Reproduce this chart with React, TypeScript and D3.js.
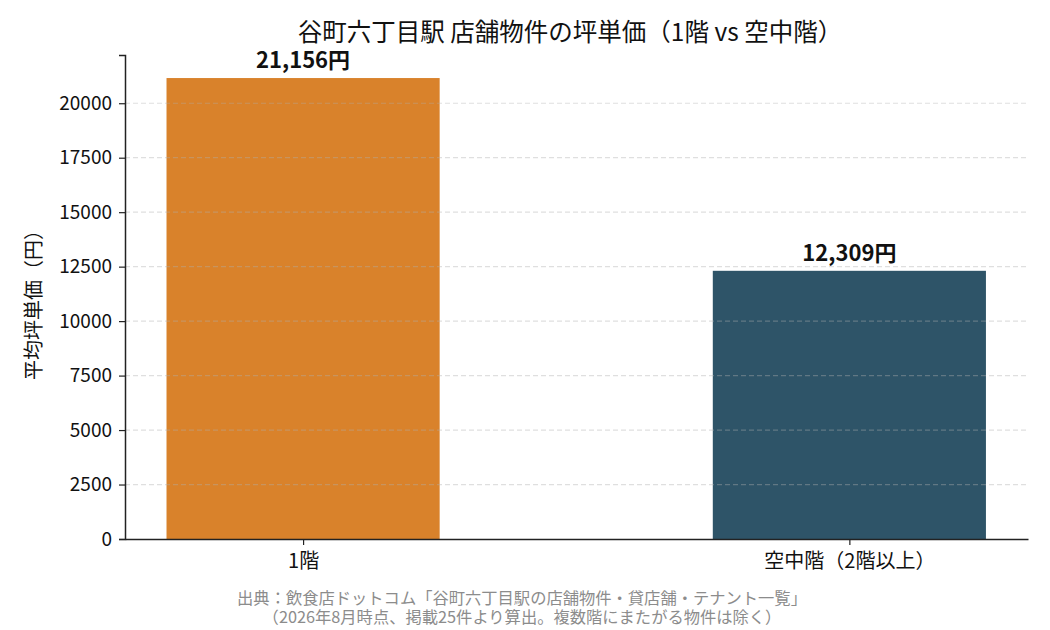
import { useEffect, useRef } from 'react';
import * as d3 from 'd3';

const categories = ['1階', '空中階（2階以上）'];
const values = [21156, 12309];
const barColors = ['#D9822B', '#2E5468'];
const yTicks = [0, 2500, 5000, 7500, 10000, 12500, 15000, 17500, 20000];

const title = '谷町六丁目駅 店舗物件の坪単価（1階 vs 空中階）';
const yLabel = '平均坪単価（円）';
const sourceLines = [
  '出典：飲食店ドットコム「谷町六丁目駅の店舗物件・貸店舗・テナント一覧」',
  '（2026年8月時点、掲載25件より算出。複数階にまたがる物件は除く）',
];

const FONT = '"Noto Sans CJK JP", "Noto Sans", sans-serif';

export default function App() {
  const svgRef = useRef<SVGSVGElement>(null);
  const width = 1050;
  const height = 630;

  useEffect(() => {
    if (!svgRef.current) return;
    const svg = d3.select(svgRef.current);
    svg.selectAll('*').remove();

    const margin = { top: 55, right: 22, bottom: 91, left: 125 };
    const innerWidth = width - margin.left - margin.right;
    const innerHeight = height - margin.top - margin.bottom;

    const g = svg.append('g').attr('transform', `translate(${margin.left},${margin.top})`);

    // category positions like matplotlib (index-based), bar width 0.5
    const x = d3.scaleLinear().domain([-0.326, 1.327]).range([0, innerWidth]);
    const y = d3.scaleLinear().domain([0, d3.max(values)! * 1.05]).range([innerHeight, 0]);
    const barW = 0.5;

    g.selectAll('.bar')
      .data(values)
      .enter().append('rect')
      .attr('class', 'bar')
      .attr('x', (_, i) => x(i - barW / 2))
      .attr('width', x(barW) - x(0))
      .attr('y', d => y(d))
      .attr('height', d => innerHeight - y(d))
      .attr('fill', (_, i) => barColors[i]);

    // grid on top of bars
    g.selectAll('.grid')
      .data(yTicks.filter(t => t > 0))
      .enter().append('line')
      .attr('class', 'grid')
      .attr('x1', 0)
      .attr('x2', innerWidth)
      .attr('y1', d => y(d))
      .attr('y2', d => y(d))
      .attr('stroke', '#b0b0b0')
      .attr('stroke-opacity', 0.4)
      .attr('stroke-width', 1.2)
      .attr('stroke-dasharray', '5,3');

    g.selectAll('.val')
      .data(values)
      .enter().append('text')
      .attr('class', 'val')
      .attr('x', (_, i) => x(i))
      .attr('y', d => y(d) - 10)
      .attr('text-anchor', 'middle')
      .attr('font-family', FONT)
      .attr('font-weight', 'bold')
      .attr('font-size', '22px')
      .attr('fill', '#111')
      .text(d => d3.format(',')(d) + '円');

    const yAxis = d3.axisLeft(y).tickValues(yTicks).tickFormat(d => String(d)).tickSize(6).tickPadding(7);
    const ya = g.append('g').call(yAxis);
    ya.select('.domain').attr('stroke', '#222').attr('stroke-width', 1.5);
    ya.selectAll('.tick line').attr('stroke', '#222').attr('stroke-width', 1.2);
    ya.selectAll('.tick text')
      .attr('font-family', FONT)
      .attr('font-size', '19px')
      .attr('fill', '#111');

    const xAxis = d3.axisBottom(x).tickValues(categories.map((_, i) => i))
      .tickFormat((_, i) => categories[i]).tickSize(6).tickPadding(9).tickSizeOuter(0);
    const xa = g.append('g').attr('transform', `translate(0,${innerHeight})`).call(xAxis);
    xa.select('.domain').attr('stroke', '#222').attr('stroke-width', 1.5);
    xa.selectAll('.tick line').attr('stroke', '#222').attr('stroke-width', 1.2);
    xa.selectAll('.tick text')
      .attr('font-family', FONT)
      .attr('font-size', '20px')
      .attr('fill', '#111');

    svg.append('text')
      .attr('x', 570)
      .attr('y', 41)
      .attr('text-anchor', 'middle')
      .attr('font-family', FONT)
      .attr('font-size', '24.5px')
      .attr('fill', '#111')
      .text(title);

    svg.append('text')
      .attr('transform', 'rotate(-90)')
      .attr('x', -(margin.top + innerHeight / 2) - 3)
      .attr('y', 41)
      .attr('text-anchor', 'middle')
      .attr('font-family', FONT)
      .attr('font-size', '20px')
      .attr('fill', '#111')
      .text(yLabel);

    svg.selectAll('.src')
      .data(sourceLines)
      .enter().append('text')
      .attr('class', 'src')
      .attr('x', 522)
      .attr('y', (_, i) => 604 + i * 19)
      .attr('text-anchor', 'middle')
      .attr('font-family', FONT)
      .attr('font-size', '16.3px')
      .attr('fill', '#8c8c8c')
      .text(d => d);
  }, []);

  return (
    <svg ref={svgRef} width={width} height={height}
      style={{ position: 'absolute', left: 0, top: 0, background: '#fff' }} />
  );
}
